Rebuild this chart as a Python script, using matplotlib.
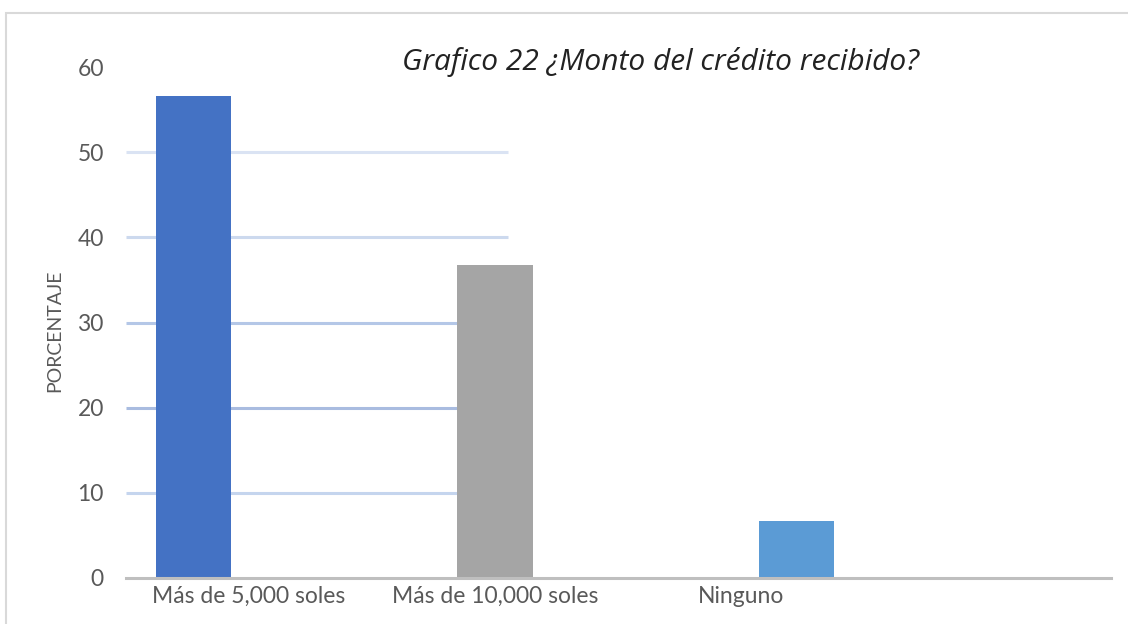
import matplotlib
matplotlib.use("Agg")
import matplotlib.pyplot as plt
import matplotlib.transforms as mtransforms
from matplotlib.patches import Rectangle

# datos del grafico
categorias = ["Más de 5,000 soles", "Más de 10,000 soles", "Ninguno"]
porcentajes = [56.6, 36.7, 6.7]
colores = ["#4472C4", "#A5A5A5", "#5B9BD5"]
ticks_y = [0, 10, 20, 30, 40, 50, 60]
titulo = "Grafico 22 ¿Monto del crédito recibido?"

plt.rcParams['font.family'] = ['Lato', 'DejaVu Sans']

fig = plt.figure(figsize=(11.28, 6.24), dpi=100)
ax = fig.add_axes([126 / 1128, 46 / 624, 985 / 1128, 511 / 624])

x = list(range(len(categorias)))
ax.bar(x, porcentajes, width=0.25, color=colores, zorder=3)

# lineas de cuadricula (solo llegan hasta la segunda barra)
grid_cols = ["#C5D5EE", "#A9BCE0", "#B4C7E7", "#CCD9EE", "#DAE3F3"]
for t, c in zip(ticks_y[1:6], grid_cols):
    ax.hlines(t, -0.224, 1.043, color=c, lw=2.2, zorder=1)

ax.set_xlim(-0.224, 3.043)
ax.set_ylim(0, 60)
ax.set_yticks(ticks_y)
ax.set_xticks(x)
ax.set_xticklabels(categorias)
ax.tick_params(axis="both", length=0, labelsize=16.5, colors="#595959")
ax.tick_params(axis="y", pad=16)
ax.tick_params(axis="x", pad=6)

# desplazamiento de las etiquetas como en el original
offsets = [55, 0, -55]
for lab, dx in zip(ax.get_xticklabels(), offsets):
    lab.set_transform(lab.get_transform() +
                      mtransforms.ScaledTranslation(dx / 100, 0, fig.dpi_scale_trans))

for s in ["top", "right", "left"]:
    ax.spines[s].set_visible(False)
ax.spines["bottom"].set_color("#BFBFBF")
ax.spines["bottom"].set_linewidth(2.2)
ax.spines["bottom"].set_zorder(4)

ax.set_ylabel("PORCENTAJE", fontsize=14, color="#595959")
ax.yaxis.set_label_coords(-0.064, 0.483)

fig.text(660 / 1128, 1 - 62 / 624, titulo, ha="center", va="center",
         fontsize=21.5, style="italic", color="#222222",
         family=["Open Sans", "DejaVu Sans"])

# borde del grafico
fig.patches.append(Rectangle((6 / 1128, -0.1), 1.2, 1.1 - 13 / 624,
                             transform=fig.transFigure, fill=False,
                             edgecolor="#D9D9D9", lw=1.5))

fig.savefig("out.png", dpi=100)
